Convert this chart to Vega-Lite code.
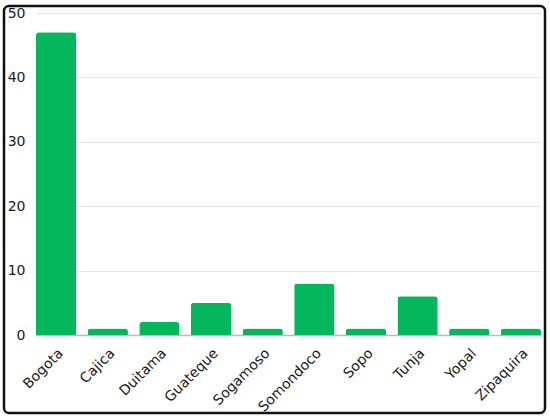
{
  "$schema": "https://vega.github.io/schema/vega-lite/v6.json",
  "width": 541,
  "height": 407,
  "autosize": "none",
  "padding": {"left": 4, "top": 6, "right": 5, "bottom": 7},
  "background": "white",
  "config": {
    "view": {"stroke": "#111111", "strokeWidth": 2.5, "cornerRadius": 5},
    "font": "DejaVu Sans"
  },
  "data": {
    "values": [
      {"city": "Bogota", "count": 47},
      {"city": "Cajica", "count": 1},
      {"city": "Duitama", "count": 2},
      {"city": "Guateque", "count": 5},
      {"city": "Sogamoso", "count": 1},
      {"city": "Somondoco", "count": 8},
      {"city": "Sopo", "count": 1},
      {"city": "Tunja", "count": 6},
      {"city": "Yopal", "count": 1},
      {"city": "Zipaquira", "count": 1}
    ]
  },
  "mark": {"type": "bar", "color": "#05b75c", "cornerRadiusTopLeft": 3, "cornerRadiusTopRight": 3},
  "encoding": {
    "x": {
      "field": "city",
      "type": "nominal",
      "sort": null,
      "title": null,
      "scale": {"range": [32, 537], "paddingInner": 0.22, "paddingOuter": 0},
      "axis": {
        "offset": -78,
        "labelAngle": -45,
        "labelFontSize": 14,
        "labelColor": "#1a1a1a",
        "labelPadding": 11,
        "ticks": false,
        "domainColor": "#bbbbbb",
        "domainWidth": 1.5
      }
    },
    "y": {
      "field": "count",
      "type": "quantitative",
      "title": null,
      "scale": {"domain": [0, 50], "range": [329, 7], "nice": false},
      "axis": {
        "values": [0, 10, 20, 30, 40, 50],
        "offset": -24,
        "labelFontSize": 14,
        "labelColor": "#1a1a1a",
        "labelPadding": 3,
        "ticks": false,
        "domain": false,
        "gridColor": "#e6e6e6"
      }
    }
  }
}
